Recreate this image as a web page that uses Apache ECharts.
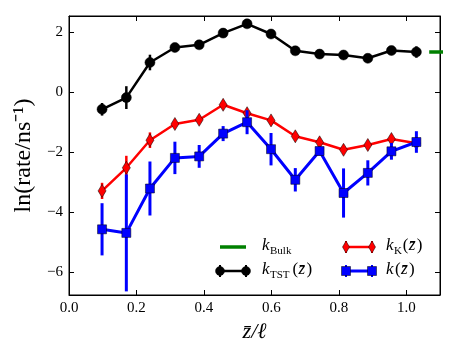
<!DOCTYPE html>
<html>
<head>
<meta charset="utf-8">
<script src="https://cdn.jsdelivr.net/npm/echarts@6/dist/echarts.min.js"></script>
<style>
  html, body { margin: 0; padding: 0; background: #fff; }
  #chart { width: 463px; height: 348px; }
</style>
</head>
<body>
<div id="chart"></div>
<script>
// z-bar / l positions of the bins
var zPos = [0.098, 0.170, 0.240, 0.314, 0.386, 0.457, 0.528, 0.599, 0.671, 0.743, 0.814, 0.886, 0.956, 1.030];

// ln(rate) values and error half-widths
var kTST    = [-0.56, -0.17, 1.00, 1.50, 1.59, 1.98, 2.29, 1.95, 1.39, 1.28, 1.25, 1.14, 1.40, 1.35];
var kTSTerr = [0.21, 0.38, 0.26, 0.06, 0.05, 0.05, 0.05, 0.05, 0.05, 0.05, 0.05, 0.05, 0.10, 0.19];
var kK      = [-3.28, -2.51, -1.59, -1.05, -0.91, -0.41, -0.69, -0.93, -1.46, -1.66, -1.91, -1.75, -1.55, -1.69];
var kKerr   = [0.27, 0.40, 0.26, 0.06, 0.06, 0.06, 0.08, 0.06, 0.06, 0.06, 0.06, 0.06, 0.06, 0.10];
var kFull   = [-4.56, -4.68, -3.20, -2.18, -2.13, -1.37, -0.99, -1.89, -2.91, -1.95, -3.35, -2.68, -1.96, -1.65];
var kFullErr= [0.87, 1.95, 0.90, 0.54, 0.38, 0.25, 0.40, 0.54, 0.39, 0.15, 0.82, 0.42, 0.28, 0.36];
var kBulk = 1.35;
var bulkX = [1.068, 1.2];

var xTicks = [0, 0.2, 0.4, 0.6, 0.8, 1.0];
var yTicks = [-6, -4, -2, 0, 2];

var serif = 'Liberation Serif';

function pairs(xs, ys) {
    return xs.map(function (x, i) { return [x, ys[i]]; });
}
function errData(xs, ys, es) {
    return xs.map(function (x, i) { return [x, ys[i] - es[i], ys[i] + es[i]]; });
}
function errSeries(xs, ys, es, color, w, z) {
    return {
        type: 'custom',
        z: z,
        data: errData(xs, ys, es),
        encode: { x: 0, y: [1, 2] },
        renderItem: function (params, api) {
            var a = api.coord([api.value(0), api.value(1)]);
            var b = api.coord([api.value(0), api.value(2)]);
            return {
                type: 'line',
                shape: { x1: a[0], y1: a[1], x2: b[0], y2: b[1] },
                style: { stroke: color, lineWidth: w }
            };
        },
        silent: true
    };
}
function fmtNum(v, d) {
    var s = v.toFixed(d);
    return v < 0 ? '\u2212' + s.slice(1) : s;
}

var myChart = echarts.init(document.getElementById('chart'));

function frameAxis(ticks, extra) {
    return Object.assign({
        type: 'value',
        axisLine: { show: true, onZero: false, lineStyle: { color: '#000', width: 1 } },
        axisTick: { show: true, inside: true, length: 5, lineStyle: { color: '#000' }, customValues: ticks },
        axisLabel: { show: false },
        splitLine: { show: false }
    }, extra);
}

// legend drawn by hand (two columns like the original)
function legendIcon(x, y, color, symbol, w) {
    var els = [{ type: 'line', shape: { x1: x, y1: y, x2: x + 26, y2: y }, style: { stroke: color, lineWidth: w } }];
    [x, x + 26].forEach(function (cx) {
        els.push({ type: 'line', shape: { x1: cx, y1: y - 6, x2: cx, y2: y + 6 }, style: { stroke: color, lineWidth: 2 } });
        if (symbol === 'circle') {
            els.push({ type: 'circle', shape: { cx: cx, cy: y, r: 4.5 }, style: { fill: color, stroke: '#000', lineWidth: 0.5 } });
        } else if (symbol === 'diamond') {
            els.push({ type: 'polygon', shape: { points: [[cx, y - 6], [cx + 3.5, y], [cx, y + 6], [cx - 3.5, y]] }, style: { fill: color, stroke: '#000', lineWidth: 0.5 } });
        } else if (symbol === 'rect') {
            els.push({ type: 'rect', shape: { x: cx - 4.5, y: y - 4.5, width: 9, height: 9 }, style: { fill: color, stroke: '#000', lineWidth: 0.5 } });
        }
    });
    return els;
}
function legendLabel(x, y, sub, arg) {
    var els = [
        { type: 'text', x: x, y: y, style: { text: 'k', font: 'italic 17px ' + serif, fill: '#000', verticalAlign: 'middle' } }
    ];
    if (sub) {
        els.push({ type: 'text', x: x + 8, y: y + 5, style: { text: sub, font: '11px ' + serif, fill: '#000', verticalAlign: 'middle' } });
    }
    if (arg) {
        var ax = x + 8 + (sub ? sub.length * 6.8 + 2 : 1);
        els.push({ type: 'text', x: ax, y: y, style: { text: '(', font: '17px ' + serif, fill: '#000', verticalAlign: 'middle' } });
        els.push({ type: 'text', x: ax + 6, y: y, style: { text: 'z\u0304', font: 'italic 17px ' + serif, fill: '#000', verticalAlign: 'middle' } });
        els.push({ type: 'text', x: ax + 14, y: y, style: { text: ')', font: '17px ' + serif, fill: '#000', verticalAlign: 'middle' } });
    }
    return els;
}

var legendEls = []
    .concat([{ type: 'line', shape: { x1: 220, y1: 247, x2: 246, y2: 247 }, style: { stroke: '#008000', lineWidth: 3.5 } }])
    .concat(legendLabel(262, 246, 'Bulk', false))
    .concat(legendIcon(220, 271, '#000', 'circle', 2.5))
    .concat(legendLabel(262, 270, 'TST', true))
    .concat(legendIcon(346, 247, '#ff0000', 'diamond', 2.5))
    .concat(legendLabel(386, 246, 'K', true))
    .concat(legendIcon(346, 271, '#0000ff', 'rect', 3))
    .concat(legendLabel(386, 270, '', true));

var option = {
    animation: false,
    backgroundColor: '#fff',
    grid: { left: 69, right: 23, top: 16, bottom: 52, show: true, borderColor: '#000', borderWidth: 1, backgroundColor: 'transparent' },
    xAxis: [
        frameAxis(xTicks, {
            min: 0, max: 1.1, position: 'bottom',
            axisLabel: { show: true, customValues: xTicks, color: '#000', fontFamily: serif, fontSize: 15, margin: 6,
                formatter: function (v) { return fmtNum(v, 1); } },
            name: 'z\u0304/\u2113', nameLocation: 'middle', nameGap: 26,
            nameTextStyle: { fontFamily: serif, fontStyle: 'italic', fontSize: 22, color: '#000' }
        }),
        frameAxis(xTicks, { min: 0, max: 1.1, position: 'top' })
    ],
    yAxis: [
        frameAxis(yTicks, {
            min: -6.75, max: 2.55, position: 'left',
            axisLabel: { show: true, customValues: yTicks, color: '#000', fontFamily: serif, fontSize: 15, margin: 6,
                formatter: function (v) { return fmtNum(v, 0); } },
            name: 'ln(rate/ns\u207B\u00B9)', nameLocation: 'middle', nameGap: 30, nameRotate: 90,
            nameTextStyle: { fontFamily: serif, fontSize: 24, color: '#000' }
        }),
        frameAxis(yTicks, { min: -6.75, max: 2.55, position: 'right' })
    ],
    graphic: legendEls,
    series: [
        {
            name: 'kBulk', type: 'line', z: 2,
            data: pairs(bulkX, [kBulk, kBulk]),
            symbol: 'none', lineStyle: { color: '#008000', width: 3.5 }
        },
        errSeries(zPos, kTST, kTSTerr, '#000', 2.5, 3),
        {
            name: 'kTST', type: 'line', z: 4,
            data: pairs(zPos, kTST),
            symbol: 'circle', symbolSize: 10,
            lineStyle: { color: '#000', width: 2.5 },
            itemStyle: { color: '#000', borderColor: '#000', borderWidth: 0.5 }
        },
        errSeries(zPos, kK, kKerr, '#ff0000', 2.5, 5),
        {
            name: 'kK', type: 'line', z: 6,
            data: pairs(zPos, kK),
            symbol: 'diamond', symbolSize: [8, 13],
            lineStyle: { color: '#ff0000', width: 2.5 },
            itemStyle: { color: '#ff0000', borderColor: '#000', borderWidth: 0.5 }
        },
        errSeries(zPos, kFull, kFullErr, '#0000ff', 3, 7),
        {
            name: 'k', type: 'line', z: 8,
            data: pairs(zPos, kFull),
            symbol: 'rect', symbolSize: 9,
            lineStyle: { color: '#0000ff', width: 3 },
            itemStyle: { color: '#0000ff', borderColor: '#000', borderWidth: 0.5 }
        },
        {
            // empty series so the top/right frame axes are laid out
            type: 'line', xAxisIndex: 1, yAxisIndex: 1, data: [], silent: true
        }
    ]
};
myChart.setOption(option);
</script>
</body>
</html>
